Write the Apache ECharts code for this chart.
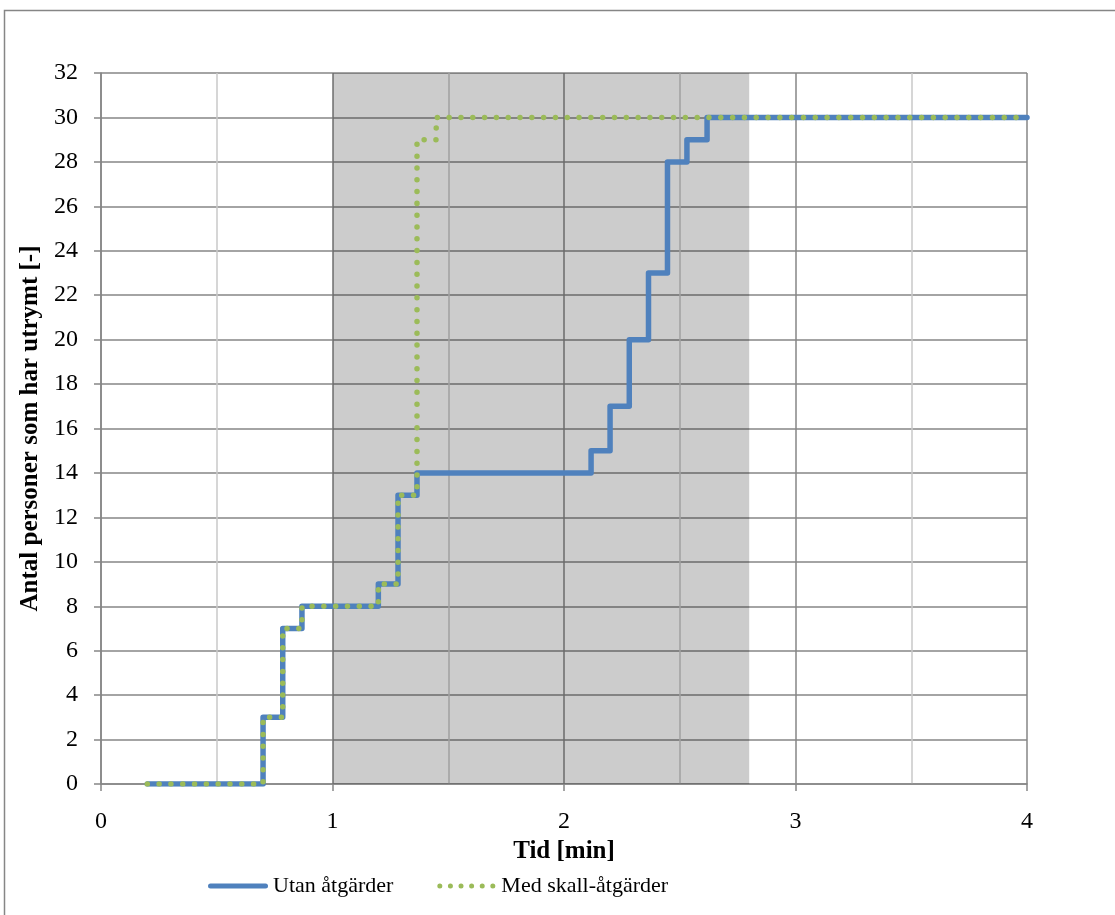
<!DOCTYPE html>
<html>
<head>
<meta charset="utf-8">
<script src="https://cdn.jsdelivr.net/npm/echarts@6/dist/echarts.min.js"></script>
<style>
html,body{margin:0;padding:0;background:#fff;}
#chart{width:1115px;height:915px;}
</style>
</head>
<body>
<div id="chart"></div>
<script>
// Data
var utanTimes  = [0.2, 0.70, 0.785, 0.868, 1.198, 1.283, 1.365, 2.117, 2.199, 2.282, 2.365, 2.447, 2.531, 2.618, 4.0];
var utanValues = [0,   3,    7,     8,     9,     13,    14,    15,    17,    20,    23,    28,    29,    30,    30];
var medTimes   = [0.2, 0.70, 0.785, 0.868, 1.198, 1.283, 1.365, 1.448, 4.0];
var medValues  = [0,   3,    7,     8,     9,     13,    29,    30,    30];
var shadeRange = [1, 2.8];
var seriesNames = ['Utan åtgärder', 'Med skall-åtgärder'];
var xTitle = 'Tid [min]';
var yTitle = 'Antal personer som har utrymt [-]';

function pairs(xs, ys){ return xs.map(function(x,i){ return [x, ys[i]]; }); }

// legend icons
function circle(cx, cy, r){
  return 'M' + (cx - r) + ',' + cy + ' A' + r + ',' + r + ' 0 1 0 ' + (cx + r) + ',' + cy +
         ' A' + r + ',' + r + ' 0 1 0 ' + (cx - r) + ',' + cy + ' Z ';
}
var dotIcon = 'path://';
for (var k = 0; k < 6; k++) { dotIcon += circle(2.5 + k * 10.6, 2.5, 2.5); }
var lineIcon = 'path://M2.5,0 L57.5,0 A2.5,2.5 0 0 1 57.5,5 L2.5,5 A2.5,2.5 0 0 1 2.5,0 Z';

var FONT = 'Liberation Serif';
var chart = echarts.init(document.getElementById('chart'), null, {renderer:'canvas'});
chart.setOption({
  animation:false,
  backgroundColor:'#fff',
  graphic:[{type:'rect', shape:{x:4.5, y:10.5, width:1200, height:1000}, style:{fill:null, stroke:'#868686', lineWidth:1.5}, z:-10}],
  grid:{left:101, top:73, right:88, bottom:131, containLabel:false},
  legend:{
    left:203, top:870, itemWidth:60, itemHeight:5, itemGap:44,
    textStyle:{fontFamily:FONT, fontSize:22, color:'#000'},
    data:[
      {name:seriesNames[0], icon:lineIcon, itemStyle:{color:'#4F81BD'}},
      {name:seriesNames[1], icon:dotIcon, itemStyle:{color:'#9BBB59'}}
    ]
  },
  xAxis:{
    type:'value', min:0, max:4, interval:1,
    name:xTitle, nameLocation:'middle', nameGap:50,
    nameTextStyle:{fontFamily:FONT, fontSize:25, fontWeight:'bold', color:'#000'},
    axisLine:{show:true, onZero:false, lineStyle:{color:'#868686', width:1.5}},
    axisTick:{show:true, inside:false, length:7, lineStyle:{color:'#868686', width:1.5}},
    axisLabel:{fontFamily:FONT, fontSize:24, color:'#000', margin:26},
    splitLine:{show:true, lineStyle:{color:'#868686', width:1.5}},
    minorTick:{show:false, splitNumber:2},
    minorSplitLine:{show:true, lineStyle:{color:'#c9c9c9', width:1.5}}
  },
  yAxis:{
    type:'value', min:0, max:32, interval:2,
    name:yTitle, nameLocation:'middle', nameGap:58, nameRotate:90,
    nameTextStyle:{fontFamily:FONT, fontSize:25, fontWeight:'bold', color:'#000'},
    axisLine:{show:true, lineStyle:{color:'#868686', width:1.5}},
    axisTick:{show:true, inside:false, length:7, lineStyle:{color:'#868686', width:1.5}},
    axisLabel:{fontFamily:FONT, fontSize:24, color:'#000', margin:23},
    splitLine:{show:true, lineStyle:{color:'#868686', width:1.5}}
  },
  series:[
    {
      name:seriesNames[0], type:'line', step:'end', symbol:'none', z:2,
      data:pairs(utanTimes, utanValues),
      lineStyle:{color:'#4F81BD', width:5.5, join:'round', cap:'round'},
      itemStyle:{color:'#4F81BD'}
    },
    {
      name:seriesNames[1], type:'line', step:'end', symbol:'none', z:3,
      data:pairs(medTimes, medValues),
      lineStyle:{color:'#9BBB59', width:5.5, type:[0.01, 11.8], cap:'round', join:'round'},
      itemStyle:{color:'#9BBB59'}
    },
    {
      name:'shade', type:'line', data:[], z:10, silent:true, symbol:'none',
      markArea:{silent:true, itemStyle:{color:'rgba(0,0,0,0.2)'}, data:[[{xAxis:shadeRange[0]},{xAxis:shadeRange[1]}]]}
    }
  ]
});
</script>
</body>
</html>
